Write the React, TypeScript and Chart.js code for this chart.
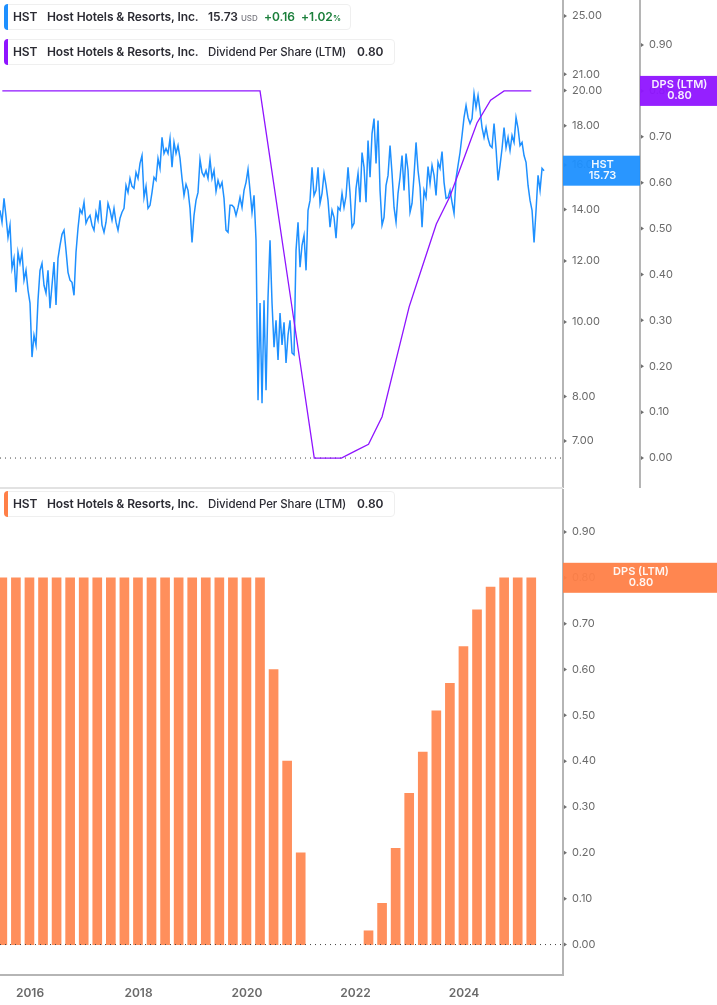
import React, { useEffect, useRef } from "react";
import { Chart, registerables } from "chart.js";

Chart.register(...registerables);

const priceValues = [
  13.97, 13.48, 14.48, 13.72, 12.88, 13.36, 11.74, 12.1, 10.93, 12.32, 11.92, 12.32, 11.33, 11.67, 11.0, 10.58, 9.0, 9.61, 9.33, 10.67,
  11.67, 11.92, 11.16, 10.9, 11.67, 10.42, 11.16, 11.96, 10.52, 12.1, 12.58, 13.0, 13.16, 12.39, 11.6, 11.33, 11.26, 10.83, 12.32, 13.24,
  14.01, 13.84, 14.31, 13.44, 13.64, 13.76, 13.36, 13.16, 13.89, 13.56, 14.39, 13.36, 13.08, 13.48, 14.26, 13.97, 13.56, 14.05, 13.48, 13.16,
  13.64, 13.89, 14.05, 15.05, 14.74, 15.37, 15.01, 14.92, 15.65, 15.37, 16.08, 16.46, 14.52, 15.01, 14.05, 14.18, 14.74, 15.42, 15.28, 16.32,
  15.84, 17.38, 16.56, 16.81, 16.56, 17.32, 15.89, 17.12, 16.56, 16.96, 16.32, 15.37, 14.61, 15.1, 14.83, 14.05, 12.69, 13.76, 14.39, 14.74,
  16.27, 15.65, 15.47, 15.74, 15.37, 16.27, 15.37, 15.74, 14.79, 15.28, 14.96, 15.19, 14.48, 13.16, 13.08, 14.18, 14.18, 14.09, 13.76, 14.09,
  14.52, 14.09, 14.83, 15.19, 15.79, 14.83, 13.89, 14.61, 12.77, 7.91, 10.58, 7.84, 10.67, 8.15, 10.77, 12.77, 10.58, 9.27, 10.05, 8.92,
  10.27, 9.33, 9.99, 8.84, 9.61, 10.05, 9.11, 9.06, 12.39, 13.48, 11.78, 12.58, 12.96, 11.67, 13.97, 14.39, 15.89, 14.61, 14.83, 15.89,
  14.26, 14.7, 15.6, 15.05, 14.39, 13.28, 13.97, 13.68, 12.85, 14.09, 13.97, 14.7, 14.09, 14.57, 15.89, 14.7, 13.28, 13.44, 14.92, 15.6,
  14.31, 16.61, 15.89, 14.31, 17.22, 15.42, 17.58, 18.39, 16.08, 18.28, 14.83, 13.36, 13.68, 15.05, 15.51, 16.96, 15.6, 14.09, 13.48, 14.7,
  15.42, 16.46, 14.83, 16.56, 15.74, 13.89, 14.26, 15.51, 17.12, 15.74, 14.96, 13.28, 14.83, 14.52, 15.93, 15.14, 15.98, 15.51, 14.61, 16.13,
  15.84, 16.66, 15.19, 14.48, 14.52, 14.83, 14.31, 13.84, 15.37, 15.98, 16.61, 17.48, 18.45, 19.12, 18.45, 18.12, 18.39, 19.82, 19.0, 19.7,
  18.84, 17.9, 17.38, 17.9, 17.32, 16.96, 16.86, 18.12, 16.81, 15.28, 15.98, 16.81, 17.9, 16.86, 17.38, 16.71, 17.48, 17.12, 18.45, 17.85,
  16.96, 17.12, 16.46, 16.13, 15.05, 14.39, 13.97, 12.69, 13.97, 15.51, 14.83, 15.84, 15.73,
];
const priceStartYear = 2015.447;
const priceStepYears = 0.03687;

const dpsStartYear = 2015.49;
const dpsStepYears = 0.25;
const dpsBarValues = [
  0.8, 0.8, 0.8, 0.8, 0.8, 0.8, 0.8, 0.8, 0.8, 0.8, 0.8, 0.8, 0.8, 0.8, 0.8, 0.8, 0.8, 0.8, 0.8, 0.8,
  0.6, 0.4, 0.2, 0, 0, 0, 0, 0.03, 0.09, 0.21, 0.33, 0.42, 0.51, 0.57, 0.65, 0.73, 0.78, 0.8, 0.8, 0.8,
];
const dpsLineValues = [
  0.8, 0.8, 0.8, 0.8, 0.8, 0.8, 0.8, 0.8, 0.8, 0.8, 0.8, 0.8, 0.8, 0.8, 0.8, 0.8, 0.8, 0.8, 0.8, 0.8,
  0.6, 0.4, 0.2, 0, 0, 0, 0.015, 0.03, 0.09, 0.21, 0.33, 0.42, 0.51, 0.57, 0.65, 0.73, 0.78, 0.8, 0.8, 0.8,
];
const priceTicks = [7, 8, 10, 12, 14, 16, 18, 20, 21, 25];
const dpsTicks = [0, 0.1, 0.2, 0.3, 0.4, 0.5, 0.6, 0.7, 0.8, 0.9];
const yearTicks = [2016, 2018, 2020, 2022, 2024];
const X_MIN = 2015.447;
const X_MAX = 2025.825;

const BLUE = "#1E90FF";
const PURPLE = "#8F14FF";
const ORANGE = "#FF7F47";
const BAR = "#FF8F5C";
const AXIS = "#B5B5B5";
const LABEL = "#6A6A6A";
const FONT = "Inter";

const priceSeries = priceValues.map((y, i) => ({ x: priceStartYear + i * priceStepYears, y }));
const dpsLine = dpsLineValues.map((y, i) => ({ x: dpsStartYear + i * dpsStepYears, y }));
const dpsBars = dpsBarValues.map((y, i) => ({ x: dpsStartYear + i * dpsStepYears, y: y === 0 ? null : y }));
const zeroLine = [{ x: X_MIN, y: 0 }, { x: X_MAX, y: 0 }];

type Tag = { scale: string; value: number; lines: string[]; color: string };

const overlay = (tags: Tag[]) => ({
  id: "overlay",
  afterDraw(chart: any) {
    const { ctx } = chart;
    ctx.save();
    for (const id of Object.keys(chart.scales)) {
      const s = chart.scales[id];
      if (s.axis !== "y") continue;
      ctx.fillStyle = "#6f6f6f";
      for (const t of s.ticks) {
        const py = s.getPixelForValue(t.value);
        ctx.beginPath();
        ctx.moveTo(s.left + 1, py - 2);
        ctx.lineTo(s.left + 4, py);
        ctx.lineTo(s.left + 1, py + 2);
        ctx.closePath();
        ctx.fill();
      }
    }
    for (const tag of tags) {
      const s = chart.scales[tag.scale];
      const py = s.getPixelForValue(tag.value);
      ctx.globalAlpha = 0.95;
      ctx.fillStyle = tag.color;
      ctx.fillRect(s.left, py - 15, s.right - s.left, 30);
      ctx.globalAlpha = 1;
      ctx.fillStyle = "rgba(255,255,255,0.93)";
      ctx.font = `600 11px ${FONT}`;
      ctx.textAlign = "center";
      ctx.textBaseline = "middle";
      ctx.fillText(tag.lines[0], (s.left + s.right) / 2 + 1, py - 6);
      ctx.fillText(tag.lines[1], (s.left + s.right) / 2 + 1, py + 5);
    }
    ctx.restore();
  },
});

const yAxis = (opts: any, ticks: number[], width: number) => ({
  position: "right",
  grid: { display: false, drawTicks: false },
  border: { display: true, color: AXIS, width: 2 },
  ticks: {
    color: LABEL,
    font: { family: FONT, size: 11 },
    padding: 9,
    autoSkip: false,
    callback: (v: any) => Number(v).toFixed(2),
  },
  afterBuildTicks: (s: any) => {
    s.ticks = ticks.map((value) => ({ value }));
  },
  afterFit: (s: any) => {
    s.width = width;
    s.paddingTop = 0;
    s.paddingBottom = 0;
  },
  ...opts,
});

const xAxis = (display: boolean) => ({
  type: "linear",
  min: X_MIN,
  max: X_MAX,
  offset: false,
  display,
  grid: { display: false, drawOnChartArea: false, drawTicks: true, tickLength: 5, tickColor: AXIS },
  border: { display: true, color: AXIS, width: 2 },
  ticks: {
    color: LABEL,
    font: { family: FONT, size: 12, weight: "600" },
    padding: 6,
    maxRotation: 0,
    autoSkip: false,
    callback: (v: any) => String(v),
  },
  afterBuildTicks: (s: any) => {
    s.ticks = yearTicks.map((value) => ({ value }));
  },
  afterFit: (s: any) => {
    s.height = display ? 30 : 0;
    s.paddingLeft = 0;
    s.paddingRight = 0;
  },
});

const zeroDataset = (yAxisID: string, order: number) => ({
  type: "line",
  data: zeroLine,
  yAxisID,
  borderColor: "#444",
  borderWidth: 1,
  borderDash: [1, 4],
  pointRadius: 0,
  order,
});

function LegendBox(props: { top: number; width: number; color: string; children: any }) {
  return (
    <div
      style={{
        position: "absolute",
        left: 4,
        top: props.top,
        width: props.width,
        height: 26,
        boxSizing: "border-box",
        background: "#fff",
        border: "1px solid #EFEFEF",
        borderRadius: 4,
        fontFamily: FONT,
        fontSize: 12,
        letterSpacing: "-0.08px",
        fontWeight: 600,
        color: "#2B2B33",
        lineHeight: "24px",
        whiteSpace: "nowrap",
      }}
    >
      <div style={{ position: "absolute", left: -1, top: -1, bottom: -1, width: 4, background: props.color, borderRadius: "4px 0 0 4px" }} />
      {props.children}
    </div>
  );
}

const At = (p: { x: number; children: any; style?: any }) => (
  <span style={{ position: "absolute", left: p.x - 5, top: 0, ...p.style }}>{p.children}</span>
);

const nameParts = (
  <>
    <At x={13}>HST</At>
    <At x={47}>Host Hotels &amp; Resorts, Inc.</At>
  </>
);
const dpsParts = (
  <>
    {nameParts}
    <At x={208} style={{ fontWeight: 500, fontSize: 11.5 }}>Dividend Per Share (LTM)</At>
    <At x={357}>0.80</At>
  </>
);

export default function App() {
  const topRef = useRef<HTMLCanvasElement>(null);
  const bottomRef = useRef<HTMLCanvasElement>(null);

  useEffect(() => {
    const top = new Chart(topRef.current as any, {
      type: "line",
      data: {
        datasets: [
          { data: dpsLine, yAxisID: "dps", borderColor: PURPLE, borderWidth: 1.3, pointRadius: 0, tension: 0, order: 1 },
          { data: priceSeries, yAxisID: "price", borderColor: BLUE, borderWidth: 1.5, pointRadius: 0, tension: 0, order: 2 },
          zeroDataset("dps", 5),
        ],
      } as any,
      options: {
        animation: false,
        responsive: false,
        maintainAspectRatio: false,
        layout: { padding: 0 },
        plugins: { legend: { display: false }, tooltip: { enabled: false } },
        scales: {
          x: xAxis(false),
          price: yAxis({ type: "logarithmic", min: 6.08, max: 26.23, weight: 1 }, priceTicks, 77),
          dps: yAxis({ type: "linear", min: -0.0653, max: 0.9981, weight: 2 }, dpsTicks, 77),
        },
      } as any,
      plugins: [
        overlay([
          { scale: "price", value: 15.73, lines: ["HST", "15.73"], color: BLUE },
          { scale: "dps", value: 0.8, lines: ["DPS (LTM)", "0.80"], color: PURPLE },
        ]),
      ],
    });

    const bottom = new Chart(bottomRef.current as any, {
      type: "bar",
      data: {
        datasets: [
          zeroDataset("dps", 0),
          { type: "bar", data: dpsBars, yAxisID: "dps", backgroundColor: BAR, barThickness: 9, order: 1 },
        ],
      } as any,
      options: {
        animation: false,
        responsive: false,
        maintainAspectRatio: false,
        layout: { padding: 0 },
        plugins: { legend: { display: false }, tooltip: { enabled: false } },
        scales: {
          x: xAxis(true),
          dps: yAxis({ type: "linear", min: -0.0664, max: 0.9937 }, dpsTicks, 154),
        },
      } as any,
      plugins: [overlay([{ scale: "dps", value: 0.8, lines: ["DPS (LTM)", "0.80"], color: ORANGE }])],
    });

    return () => {
      top.destroy();
      bottom.destroy();
    };
  }, []);

  return (
    <div style={{ position: "absolute", left: 0, top: 0, width: 717, height: 1005, overflow: "hidden", background: "#fff" }}>
      <canvas ref={topRef} width={717} height={488} style={{ position: "absolute", left: 0, top: 0, width: 717, height: 488 }} />
      <canvas ref={bottomRef} width={717} height={516} style={{ position: "absolute", left: 0, top: 489, width: 717, height: 516 }} />
      <div style={{ position: "absolute", left: 0, top: 487, width: 563, height: 2, background: "#E2E2E2" }} />
      <LegendBox top={4} width={347} color={BLUE}>
        {nameParts}
        <At x={208}>15.73</At>
        <At x={241} style={{ fontSize: 8, color: "#77777F", fontWeight: 500, top: 1 }}>USD</At>
        <At x={264} style={{ color: "#1B7F3B" }}>+0.16</At>
        <At x={301} style={{ color: "#1B7F3B" }}>+1.02</At>
        <At x={333} style={{ fontSize: 8, color: "#1B7F3B", top: 1 }}>%</At>
      </LegendBox>
      <LegendBox top={39} width={391} color={PURPLE}>{dpsParts}</LegendBox>
      <LegendBox top={491} width={391} color={ORANGE}>{dpsParts}</LegendBox>
    </div>
  );
}
